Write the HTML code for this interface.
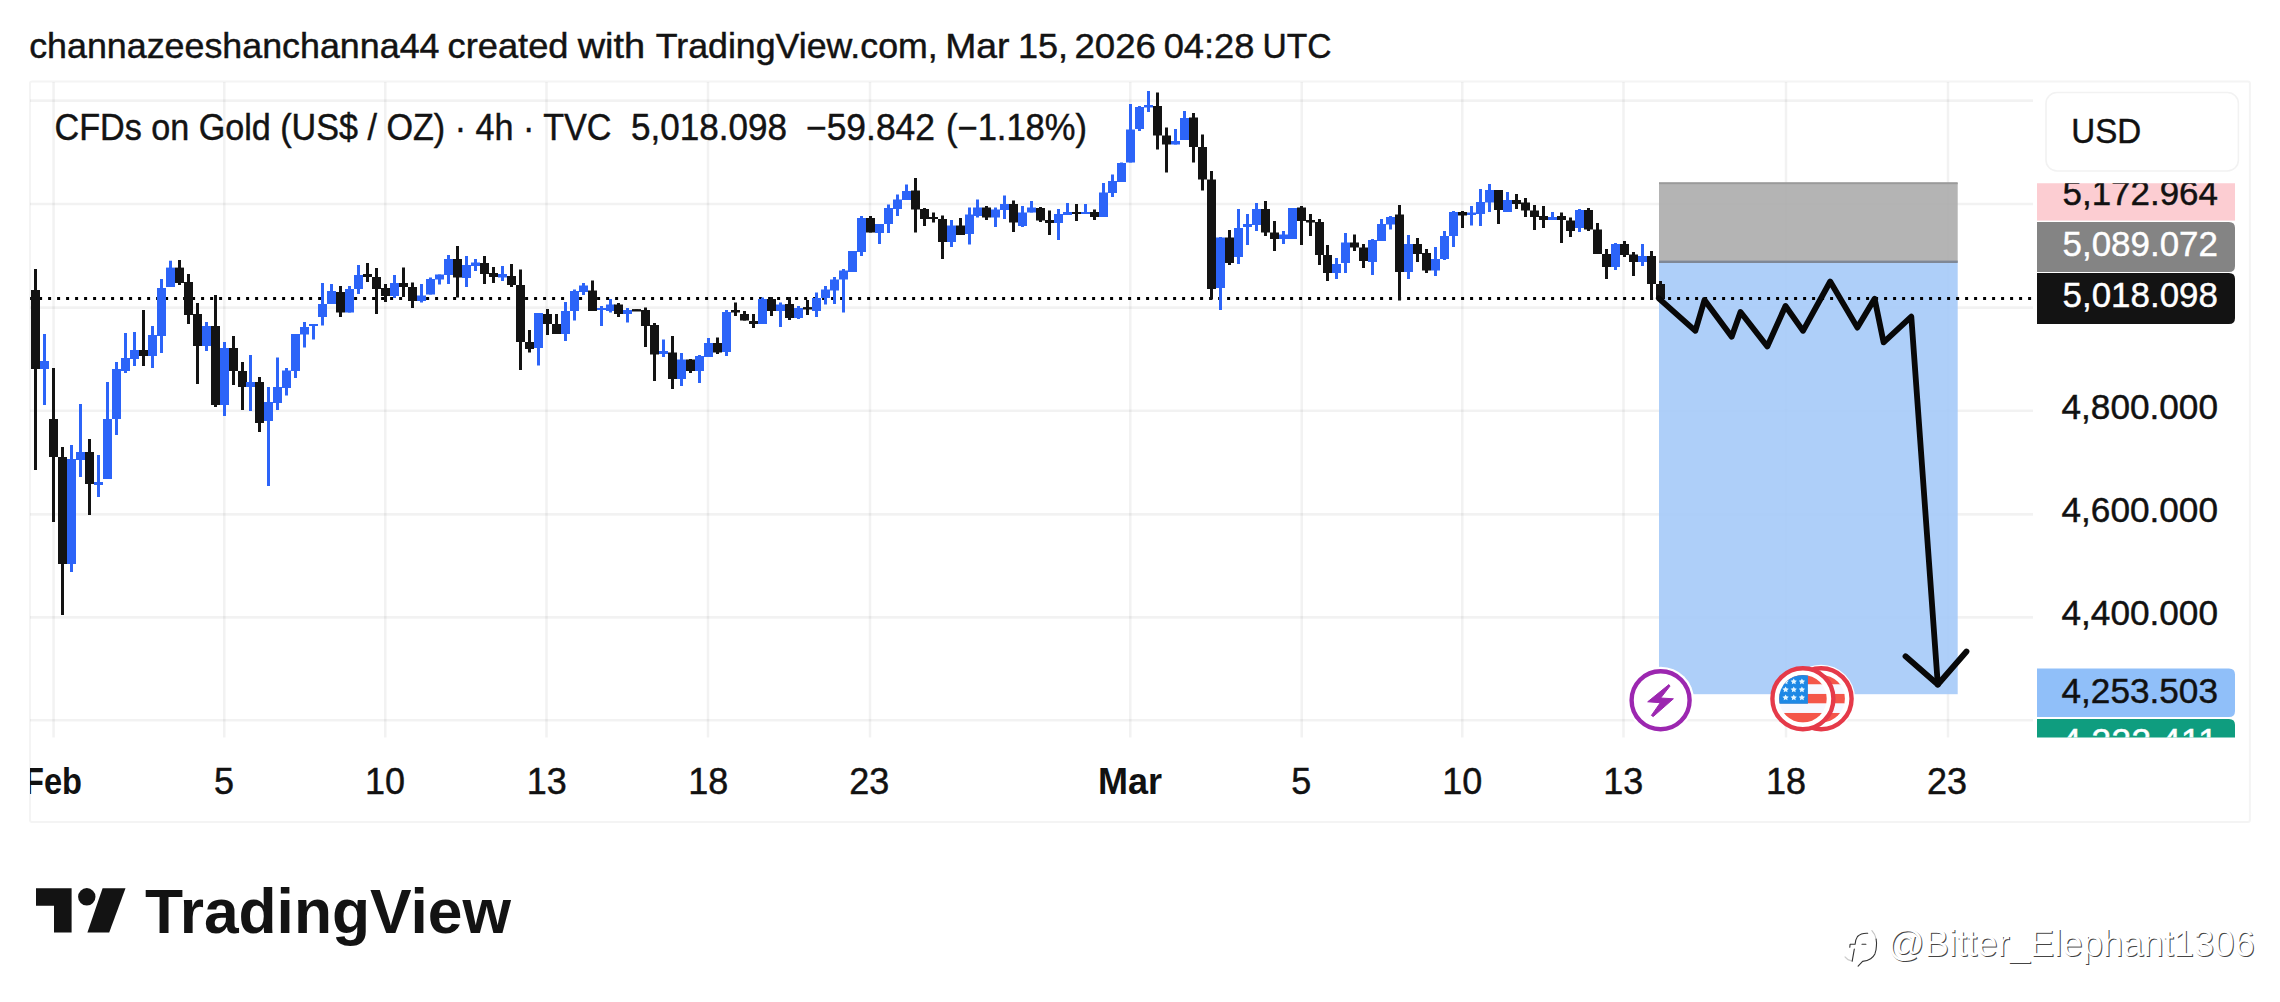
<!DOCTYPE html>
<html><head><meta charset="utf-8"><title>chart</title>
<style>html,body{margin:0;padding:0;background:#fff;}body{width:2280px;height:1002px;overflow:hidden;}svg{display:block;}text{font-family:"Liberation Sans",sans-serif;}.k{stroke:#131313;stroke-width:0.45px;}.w{stroke:#fff;stroke-width:0.4px;}</style>
</head><body>
<svg width="2280" height="1002" viewBox="0 0 2280 1002">
<rect x="0" y="0" width="2280" height="1002" fill="#ffffff"/>
<rect x="30" y="81.4" width="2219.9" height="740.6" rx="2" fill="none" stroke="#f4f4f4" stroke-width="2"/>
<g stroke="rgba(0,0,0,0.05)" stroke-width="2.6">
<line x1="30" y1="100.6" x2="2033" y2="100.6"/>
<line x1="30" y1="204.0" x2="2033" y2="204.0"/>
<line x1="30" y1="307.6" x2="2033" y2="307.6"/>
<line x1="30" y1="410.8" x2="2033" y2="410.8"/>
<line x1="30" y1="514.4" x2="2033" y2="514.4"/>
<line x1="30" y1="617.4" x2="2033" y2="617.4"/>
<line x1="30" y1="720.2" x2="2033" y2="720.2"/>
<line x1="53.6" y1="82" x2="53.6" y2="737.5"/>
<line x1="224.3" y1="82" x2="224.3" y2="737.5"/>
<line x1="385.3" y1="82" x2="385.3" y2="737.5"/>
<line x1="546.5" y1="82" x2="546.5" y2="737.5"/>
<line x1="708.0" y1="82" x2="708.0" y2="737.5"/>
<line x1="870.0" y1="82" x2="870.0" y2="737.5"/>
<line x1="1130.3" y1="82" x2="1130.3" y2="737.5"/>
<line x1="1301.7" y1="82" x2="1301.7" y2="737.5"/>
<line x1="1462.3" y1="82" x2="1462.3" y2="737.5"/>
<line x1="1623.5" y1="82" x2="1623.5" y2="737.5"/>
<line x1="1786.0" y1="82" x2="1786.0" y2="737.5"/>
<line x1="1948.0" y1="82" x2="1948.0" y2="737.5"/>
</g>
<rect x="1659" y="183" width="298.7" height="79" fill="rgba(172,172,172,0.9)"/>
<rect x="1659" y="262" width="298.7" height="432.2" fill="rgba(165,202,248,0.9)"/>
<rect x="1659" y="182.2" width="298.7" height="2" fill="#9a9a9a"/>
<rect x="1659" y="260.6" width="298.7" height="2.4" fill="#7f8896"/>
<line x1="30.1" y1="298.4" x2="2032" y2="298.4" stroke="#000" stroke-width="3" stroke-dasharray="3 6"/>
<g>
<rect x="34.00" y="269.0" width="3.0" height="201.0" fill="#131313"/>
<rect x="43.00" y="334.0" width="3.0" height="71.0" fill="#2c64f8"/>
<rect x="52.00" y="368.0" width="3.0" height="154.0" fill="#131313"/>
<rect x="61.00" y="447.0" width="3.0" height="168.0" fill="#131313"/>
<rect x="70.00" y="445.0" width="3.0" height="127.0" fill="#2c64f8"/>
<rect x="79.00" y="404.0" width="3.0" height="73.0" fill="#2c64f8"/>
<rect x="88.00" y="439.0" width="3.0" height="76.0" fill="#131313"/>
<rect x="97.00" y="455.0" width="3.0" height="42.0" fill="#2c64f8"/>
<rect x="106.00" y="382.0" width="3.0" height="97.0" fill="#2c64f8"/>
<rect x="115.00" y="362.0" width="3.0" height="73.0" fill="#2c64f8"/>
<rect x="124.00" y="333.0" width="3.0" height="40.0" fill="#2c64f8"/>
<rect x="133.00" y="332.0" width="3.0" height="34.0" fill="#2c64f8"/>
<rect x="142.00" y="310.0" width="3.0" height="56.0" fill="#131313"/>
<rect x="151.00" y="326.0" width="3.0" height="42.0" fill="#2c64f8"/>
<rect x="160.00" y="279.0" width="3.0" height="74.0" fill="#2c64f8"/>
<rect x="169.00" y="260.7" width="3.0" height="26.3" fill="#2c64f8"/>
<rect x="178.00" y="260.0" width="3.0" height="25.0" fill="#131313"/>
<rect x="187.00" y="274.0" width="3.0" height="50.0" fill="#131313"/>
<rect x="196.00" y="303.0" width="3.0" height="81.0" fill="#131313"/>
<rect x="205.00" y="322.0" width="3.0" height="29.0" fill="#2c64f8"/>
<rect x="214.00" y="295.0" width="3.0" height="112.0" fill="#131313"/>
<rect x="223.00" y="342.0" width="3.0" height="74.0" fill="#2c64f8"/>
<rect x="232.00" y="336.0" width="3.0" height="49.0" fill="#131313"/>
<rect x="241.00" y="362.0" width="3.0" height="48.0" fill="#131313"/>
<rect x="249.00" y="355.0" width="3.0" height="56.0" fill="#2c64f8"/>
<rect x="258.00" y="377.0" width="3.0" height="55.0" fill="#131313"/>
<rect x="267.00" y="387.0" width="3.0" height="99.0" fill="#2c64f8"/>
<rect x="276.00" y="357.5" width="3.0" height="52.5" fill="#2c64f8"/>
<rect x="285.00" y="368.0" width="3.0" height="27.5" fill="#2c64f8"/>
<rect x="294.00" y="334.0" width="3.0" height="44.0" fill="#2c64f8"/>
<rect x="303.00" y="322.0" width="3.0" height="25.5" fill="#2c64f8"/>
<rect x="312.00" y="324.0" width="3.0" height="15.5" fill="#2c64f8"/>
<rect x="321.00" y="283.0" width="3.0" height="42.5" fill="#2c64f8"/>
<rect x="330.00" y="284.0" width="3.0" height="20.0" fill="#2c64f8"/>
<rect x="339.00" y="286.0" width="3.0" height="31.0" fill="#131313"/>
<rect x="348.00" y="286.0" width="3.0" height="26.5" fill="#2c64f8"/>
<rect x="357.00" y="265.0" width="3.0" height="29.0" fill="#2c64f8"/>
<rect x="366.00" y="263.0" width="3.0" height="19.0" fill="#131313"/>
<rect x="375.00" y="268.0" width="3.0" height="46.0" fill="#131313"/>
<rect x="384.00" y="284.0" width="3.0" height="18.0" fill="#131313"/>
<rect x="393.00" y="275.0" width="3.0" height="23.0" fill="#2c64f8"/>
<rect x="402.00" y="267.5" width="3.0" height="29.5" fill="#131313"/>
<rect x="411.00" y="282.5" width="3.0" height="25.5" fill="#131313"/>
<rect x="420.00" y="284.0" width="3.0" height="18.5" fill="#2c64f8"/>
<rect x="429.00" y="277.5" width="3.0" height="17.0" fill="#2c64f8"/>
<rect x="438.00" y="274.5" width="3.0" height="10.0" fill="#2c64f8"/>
<rect x="447.00" y="255.0" width="3.0" height="29.0" fill="#2c64f8"/>
<rect x="456.00" y="246.0" width="3.0" height="51.5" fill="#131313"/>
<rect x="465.00" y="256.0" width="3.0" height="31.0" fill="#2c64f8"/>
<rect x="474.00" y="259.0" width="3.0" height="12.0" fill="#2c64f8"/>
<rect x="483.00" y="256.0" width="3.0" height="28.0" fill="#131313"/>
<rect x="492.00" y="267.0" width="3.0" height="16.0" fill="#131313"/>
<rect x="501.00" y="266.0" width="3.0" height="15.0" fill="#2c64f8"/>
<rect x="510.00" y="264.0" width="3.0" height="23.0" fill="#131313"/>
<rect x="519.00" y="269.5" width="3.0" height="100.5" fill="#131313"/>
<rect x="528.00" y="330.0" width="3.0" height="22.5" fill="#131313"/>
<rect x="537.00" y="313.0" width="3.0" height="52.5" fill="#2c64f8"/>
<rect x="546.00" y="309.0" width="3.0" height="26.0" fill="#131313"/>
<rect x="555.00" y="314.0" width="3.0" height="20.0" fill="#131313"/>
<rect x="564.00" y="302.0" width="3.0" height="39.0" fill="#2c64f8"/>
<rect x="573.00" y="289.5" width="3.0" height="31.0" fill="#2c64f8"/>
<rect x="582.00" y="283.0" width="3.0" height="12.0" fill="#2c64f8"/>
<rect x="591.00" y="280.5" width="3.0" height="30.5" fill="#131313"/>
<rect x="600.00" y="306.0" width="3.0" height="20.0" fill="#2c64f8"/>
<rect x="609.00" y="299.0" width="3.0" height="13.5" fill="#2c64f8"/>
<rect x="617.00" y="303.0" width="3.0" height="14.0" fill="#131313"/>
<rect x="626.00" y="308.0" width="3.0" height="14.5" fill="#2c64f8"/>
<rect x="635.00" y="309.5" width="3.0" height="1.5" fill="#131313"/>
<rect x="644.00" y="307.5" width="3.0" height="39.5" fill="#131313"/>
<rect x="653.00" y="323.0" width="3.0" height="58.0" fill="#131313"/>
<rect x="662.00" y="339.5" width="3.0" height="17.5" fill="#2c64f8"/>
<rect x="671.00" y="336.0" width="3.0" height="53.0" fill="#131313"/>
<rect x="680.00" y="353.0" width="3.0" height="33.0" fill="#2c64f8"/>
<rect x="689.00" y="359.0" width="3.0" height="14.0" fill="#131313"/>
<rect x="698.00" y="355.0" width="3.0" height="28.0" fill="#2c64f8"/>
<rect x="707.00" y="338.0" width="3.0" height="19.0" fill="#2c64f8"/>
<rect x="716.00" y="337.5" width="3.0" height="16.5" fill="#131313"/>
<rect x="725.00" y="310.0" width="3.0" height="46.0" fill="#2c64f8"/>
<rect x="734.00" y="302.5" width="3.0" height="13.5" fill="#131313"/>
<rect x="743.00" y="311.0" width="3.0" height="9.5" fill="#131313"/>
<rect x="752.00" y="314.0" width="3.0" height="14.0" fill="#131313"/>
<rect x="761.00" y="297.5" width="3.0" height="26.5" fill="#2c64f8"/>
<rect x="770.00" y="297.0" width="3.0" height="19.0" fill="#131313"/>
<rect x="779.00" y="302.5" width="3.0" height="24.5" fill="#2c64f8"/>
<rect x="788.00" y="297.0" width="3.0" height="23.0" fill="#131313"/>
<rect x="797.00" y="306.0" width="3.0" height="13.0" fill="#2c64f8"/>
<rect x="806.00" y="300.0" width="3.0" height="15.0" fill="#131313"/>
<rect x="815.00" y="292.5" width="3.0" height="24.5" fill="#2c64f8"/>
<rect x="824.00" y="286.0" width="3.0" height="18.5" fill="#2c64f8"/>
<rect x="833.00" y="277.0" width="3.0" height="27.0" fill="#2c64f8"/>
<rect x="842.00" y="269.0" width="3.0" height="43.5" fill="#2c64f8"/>
<rect x="851.00" y="251.0" width="3.0" height="21.0" fill="#2c64f8"/>
<rect x="860.00" y="216.0" width="3.0" height="40.0" fill="#2c64f8"/>
<rect x="869.00" y="216.0" width="3.0" height="16.5" fill="#131313"/>
<rect x="878.00" y="224.0" width="3.0" height="20.0" fill="#2c64f8"/>
<rect x="887.00" y="204.5" width="3.0" height="28.5" fill="#2c64f8"/>
<rect x="896.00" y="194.5" width="3.0" height="21.5" fill="#2c64f8"/>
<rect x="905.00" y="184.5" width="3.0" height="15.5" fill="#2c64f8"/>
<rect x="914.00" y="178.0" width="3.0" height="54.5" fill="#131313"/>
<rect x="923.00" y="208.0" width="3.0" height="18.0" fill="#131313"/>
<rect x="932.00" y="212.5" width="3.0" height="10.0" fill="#131313"/>
<rect x="941.00" y="215.5" width="3.0" height="43.5" fill="#131313"/>
<rect x="950.00" y="220.0" width="3.0" height="27.0" fill="#2c64f8"/>
<rect x="959.00" y="218.0" width="3.0" height="17.0" fill="#131313"/>
<rect x="968.00" y="207.5" width="3.0" height="37.0" fill="#2c64f8"/>
<rect x="976.00" y="199.5" width="3.0" height="18.0" fill="#2c64f8"/>
<rect x="985.00" y="206.0" width="3.0" height="14.0" fill="#131313"/>
<rect x="994.00" y="207.5" width="3.0" height="19.5" fill="#2c64f8"/>
<rect x="1003.00" y="195.5" width="3.0" height="23.5" fill="#2c64f8"/>
<rect x="1012.00" y="200.5" width="3.0" height="31.5" fill="#131313"/>
<rect x="1021.00" y="206.0" width="3.0" height="21.0" fill="#2c64f8"/>
<rect x="1030.00" y="201.0" width="3.0" height="11.5" fill="#2c64f8"/>
<rect x="1039.00" y="207.0" width="3.0" height="15.0" fill="#131313"/>
<rect x="1048.00" y="210.5" width="3.0" height="24.5" fill="#131313"/>
<rect x="1057.00" y="209.0" width="3.0" height="31.0" fill="#2c64f8"/>
<rect x="1066.00" y="203.0" width="3.0" height="12.0" fill="#2c64f8"/>
<rect x="1075.00" y="204.0" width="3.0" height="17.0" fill="#131313"/>
<rect x="1084.00" y="204.0" width="3.0" height="10.0" fill="#2c64f8"/>
<rect x="1093.00" y="209.5" width="3.0" height="10.5" fill="#131313"/>
<rect x="1102.00" y="183.0" width="3.0" height="34.0" fill="#2c64f8"/>
<rect x="1111.00" y="174.5" width="3.0" height="22.5" fill="#2c64f8"/>
<rect x="1120.00" y="162.5" width="3.0" height="19.5" fill="#2c64f8"/>
<rect x="1129.00" y="104.0" width="3.0" height="58.5" fill="#2c64f8"/>
<rect x="1138.00" y="106.0" width="3.0" height="25.0" fill="#2c64f8"/>
<rect x="1147.00" y="91.0" width="3.0" height="21.0" fill="#2c64f8"/>
<rect x="1156.00" y="92.5" width="3.0" height="57.0" fill="#131313"/>
<rect x="1165.00" y="127.5" width="3.0" height="45.0" fill="#131313"/>
<rect x="1174.00" y="129.0" width="3.0" height="15.5" fill="#2c64f8"/>
<rect x="1183.00" y="111.0" width="3.0" height="29.0" fill="#2c64f8"/>
<rect x="1192.00" y="113.0" width="3.0" height="49.5" fill="#131313"/>
<rect x="1201.00" y="134.5" width="3.0" height="56.0" fill="#131313"/>
<rect x="1210.00" y="171.0" width="3.0" height="128.5" fill="#131313"/>
<rect x="1219.00" y="237.0" width="3.0" height="73.0" fill="#2c64f8"/>
<rect x="1228.00" y="230.0" width="3.0" height="35.0" fill="#131313"/>
<rect x="1237.00" y="209.0" width="3.0" height="55.0" fill="#2c64f8"/>
<rect x="1246.00" y="214.0" width="3.0" height="31.0" fill="#2c64f8"/>
<rect x="1255.00" y="203.0" width="3.0" height="28.0" fill="#2c64f8"/>
<rect x="1264.00" y="201.0" width="3.0" height="35.0" fill="#131313"/>
<rect x="1273.00" y="221.0" width="3.0" height="30.0" fill="#131313"/>
<rect x="1282.00" y="231.0" width="3.0" height="13.0" fill="#2c64f8"/>
<rect x="1291.00" y="208.0" width="3.0" height="31.0" fill="#2c64f8"/>
<rect x="1300.00" y="206.0" width="3.0" height="39.0" fill="#131313"/>
<rect x="1309.00" y="214.0" width="3.0" height="22.0" fill="#131313"/>
<rect x="1318.00" y="219.0" width="3.0" height="46.0" fill="#131313"/>
<rect x="1326.00" y="245.0" width="3.0" height="36.0" fill="#131313"/>
<rect x="1335.00" y="258.0" width="3.0" height="21.0" fill="#2c64f8"/>
<rect x="1344.00" y="233.0" width="3.0" height="40.0" fill="#2c64f8"/>
<rect x="1353.00" y="234.5" width="3.0" height="16.5" fill="#131313"/>
<rect x="1362.00" y="244.0" width="3.0" height="24.0" fill="#131313"/>
<rect x="1371.00" y="239.0" width="3.0" height="36.0" fill="#2c64f8"/>
<rect x="1380.00" y="219.0" width="3.0" height="22.0" fill="#2c64f8"/>
<rect x="1389.00" y="216.0" width="3.0" height="13.5" fill="#2c64f8"/>
<rect x="1398.00" y="205.0" width="3.0" height="95.5" fill="#131313"/>
<rect x="1407.00" y="235.0" width="3.0" height="44.0" fill="#2c64f8"/>
<rect x="1416.00" y="238.0" width="3.0" height="24.0" fill="#131313"/>
<rect x="1425.00" y="249.0" width="3.0" height="24.0" fill="#131313"/>
<rect x="1434.00" y="247.0" width="3.0" height="29.0" fill="#2c64f8"/>
<rect x="1443.00" y="231.0" width="3.0" height="29.0" fill="#2c64f8"/>
<rect x="1452.00" y="211.0" width="3.0" height="36.0" fill="#2c64f8"/>
<rect x="1461.00" y="211.0" width="3.0" height="17.0" fill="#131313"/>
<rect x="1470.00" y="206.0" width="3.0" height="19.5" fill="#2c64f8"/>
<rect x="1479.00" y="189.0" width="3.0" height="37.0" fill="#2c64f8"/>
<rect x="1488.00" y="184.0" width="3.0" height="28.0" fill="#2c64f8"/>
<rect x="1497.00" y="190.0" width="3.0" height="34.0" fill="#131313"/>
<rect x="1506.00" y="192.0" width="3.0" height="20.0" fill="#2c64f8"/>
<rect x="1515.00" y="194.0" width="3.0" height="15.0" fill="#131313"/>
<rect x="1524.00" y="198.0" width="3.0" height="19.0" fill="#131313"/>
<rect x="1533.00" y="205.0" width="3.0" height="25.0" fill="#131313"/>
<rect x="1542.00" y="206.0" width="3.0" height="22.0" fill="#131313"/>
<rect x="1551.00" y="212.0" width="3.0" height="8.0" fill="#2c64f8"/>
<rect x="1560.00" y="212.5" width="3.0" height="30.5" fill="#131313"/>
<rect x="1569.00" y="217.5" width="3.0" height="19.5" fill="#131313"/>
<rect x="1578.00" y="209.0" width="3.0" height="23.0" fill="#2c64f8"/>
<rect x="1587.00" y="208.0" width="3.0" height="23.0" fill="#131313"/>
<rect x="1596.00" y="223.0" width="3.0" height="31.0" fill="#131313"/>
<rect x="1605.00" y="249.0" width="3.0" height="30.0" fill="#131313"/>
<rect x="1614.00" y="243.0" width="3.0" height="27.0" fill="#2c64f8"/>
<rect x="1623.00" y="241.0" width="3.0" height="16.0" fill="#131313"/>
<rect x="1632.00" y="252.0" width="3.0" height="24.0" fill="#131313"/>
<rect x="1641.00" y="244.0" width="3.0" height="22.0" fill="#2c64f8"/>
<rect x="1650.00" y="251.0" width="3.0" height="49.0" fill="#131313"/>
<rect x="1659.00" y="281.0" width="3.0" height="19.0" fill="#131313"/>
<rect x="31.00" y="290.0" width="9.0" height="79.0" fill="#131313"/>
<rect x="40.00" y="361.0" width="9.0" height="8.0" fill="#2c64f8"/>
<rect x="49.00" y="419.0" width="9.0" height="38.0" fill="#131313"/>
<rect x="58.00" y="457.0" width="9.0" height="107.0" fill="#131313"/>
<rect x="67.00" y="459.0" width="9.0" height="105.0" fill="#2c64f8"/>
<rect x="76.00" y="452.0" width="9.0" height="8.0" fill="#2c64f8"/>
<rect x="85.00" y="452.0" width="9.0" height="32.0" fill="#131313"/>
<rect x="94.00" y="482.0" width="9.0" height="3.0" fill="#2c64f8"/>
<rect x="103.00" y="419.0" width="9.0" height="60.0" fill="#2c64f8"/>
<rect x="112.00" y="369.0" width="9.0" height="50.0" fill="#2c64f8"/>
<rect x="121.00" y="358.0" width="9.0" height="13.0" fill="#2c64f8"/>
<rect x="130.00" y="350.0" width="9.0" height="9.0" fill="#2c64f8"/>
<rect x="139.00" y="350.0" width="9.0" height="6.0" fill="#131313"/>
<rect x="148.00" y="335.0" width="9.0" height="21.0" fill="#2c64f8"/>
<rect x="157.00" y="288.0" width="9.0" height="48.0" fill="#2c64f8"/>
<rect x="166.00" y="267.6" width="9.0" height="19.4" fill="#2c64f8"/>
<rect x="175.00" y="267.6" width="9.0" height="15.4" fill="#131313"/>
<rect x="184.00" y="282.0" width="9.0" height="33.0" fill="#131313"/>
<rect x="193.00" y="314.0" width="9.0" height="32.0" fill="#131313"/>
<rect x="202.00" y="326.0" width="9.0" height="20.0" fill="#2c64f8"/>
<rect x="211.00" y="326.0" width="9.0" height="79.0" fill="#131313"/>
<rect x="220.00" y="348.0" width="9.0" height="57.0" fill="#2c64f8"/>
<rect x="229.00" y="348.0" width="9.0" height="23.0" fill="#131313"/>
<rect x="238.00" y="371.0" width="9.0" height="16.0" fill="#131313"/>
<rect x="246.00" y="382.0" width="9.0" height="5.0" fill="#2c64f8"/>
<rect x="255.00" y="382.0" width="9.0" height="41.0" fill="#131313"/>
<rect x="264.00" y="402.0" width="9.0" height="19.0" fill="#2c64f8"/>
<rect x="273.00" y="387.0" width="9.0" height="16.0" fill="#2c64f8"/>
<rect x="282.00" y="370.5" width="9.0" height="17.5" fill="#2c64f8"/>
<rect x="291.00" y="334.0" width="9.0" height="37.0" fill="#2c64f8"/>
<rect x="300.00" y="327.0" width="9.0" height="7.5" fill="#2c64f8"/>
<rect x="309.00" y="324.0" width="9.0" height="2.0" fill="#2c64f8"/>
<rect x="318.00" y="304.0" width="9.0" height="13.0" fill="#2c64f8"/>
<rect x="327.00" y="291.0" width="9.0" height="13.0" fill="#2c64f8"/>
<rect x="336.00" y="292.0" width="9.0" height="20.5" fill="#131313"/>
<rect x="345.00" y="289.0" width="9.0" height="23.5" fill="#2c64f8"/>
<rect x="354.00" y="275.0" width="9.0" height="14.0" fill="#2c64f8"/>
<rect x="363.00" y="274.0" width="9.0" height="3.0" fill="#131313"/>
<rect x="372.00" y="277.0" width="9.0" height="12.0" fill="#131313"/>
<rect x="381.00" y="288.0" width="9.0" height="8.0" fill="#131313"/>
<rect x="390.00" y="283.0" width="9.0" height="13.0" fill="#2c64f8"/>
<rect x="399.00" y="283.0" width="9.0" height="4.0" fill="#131313"/>
<rect x="408.00" y="287.0" width="9.0" height="14.0" fill="#131313"/>
<rect x="417.00" y="295.5" width="9.0" height="5.5" fill="#2c64f8"/>
<rect x="426.00" y="279.0" width="9.0" height="15.5" fill="#2c64f8"/>
<rect x="435.00" y="274.5" width="9.0" height="5.0" fill="#2c64f8"/>
<rect x="444.00" y="259.0" width="9.0" height="16.0" fill="#2c64f8"/>
<rect x="453.00" y="259.0" width="9.0" height="18.5" fill="#131313"/>
<rect x="462.00" y="265.0" width="9.0" height="13.0" fill="#2c64f8"/>
<rect x="471.00" y="262.5" width="9.0" height="3.5" fill="#2c64f8"/>
<rect x="480.00" y="263.0" width="9.0" height="11.0" fill="#131313"/>
<rect x="489.00" y="273.0" width="9.0" height="4.0" fill="#131313"/>
<rect x="498.00" y="274.0" width="9.0" height="3.5" fill="#2c64f8"/>
<rect x="507.00" y="276.0" width="9.0" height="9.0" fill="#131313"/>
<rect x="516.00" y="285.0" width="9.0" height="57.0" fill="#131313"/>
<rect x="525.00" y="342.0" width="9.0" height="7.0" fill="#131313"/>
<rect x="534.00" y="313.0" width="9.0" height="35.0" fill="#2c64f8"/>
<rect x="543.00" y="314.0" width="9.0" height="10.0" fill="#131313"/>
<rect x="552.00" y="324.0" width="9.0" height="10.0" fill="#131313"/>
<rect x="561.00" y="311.0" width="9.0" height="23.0" fill="#2c64f8"/>
<rect x="570.00" y="291.0" width="9.0" height="20.0" fill="#2c64f8"/>
<rect x="579.00" y="285.5" width="9.0" height="6.5" fill="#2c64f8"/>
<rect x="588.00" y="290.5" width="9.0" height="20.5" fill="#131313"/>
<rect x="597.00" y="308.0" width="9.0" height="2.0" fill="#2c64f8"/>
<rect x="606.00" y="304.5" width="9.0" height="6.5" fill="#2c64f8"/>
<rect x="614.00" y="304.5" width="9.0" height="9.5" fill="#131313"/>
<rect x="623.00" y="310.0" width="9.0" height="4.0" fill="#2c64f8"/>
<rect x="632.00" y="309.1" width="9.0" height="2.4" fill="#131313"/>
<rect x="641.00" y="310.0" width="9.0" height="16.0" fill="#131313"/>
<rect x="650.00" y="325.0" width="9.0" height="29.5" fill="#131313"/>
<rect x="659.00" y="351.0" width="9.0" height="3.0" fill="#2c64f8"/>
<rect x="668.00" y="352.5" width="9.0" height="26.5" fill="#131313"/>
<rect x="677.00" y="359.5" width="9.0" height="19.5" fill="#2c64f8"/>
<rect x="686.00" y="359.5" width="9.0" height="11.5" fill="#131313"/>
<rect x="695.00" y="356.0" width="9.0" height="15.0" fill="#2c64f8"/>
<rect x="704.00" y="343.0" width="9.0" height="14.0" fill="#2c64f8"/>
<rect x="713.00" y="343.0" width="9.0" height="9.5" fill="#131313"/>
<rect x="722.00" y="312.0" width="9.0" height="40.0" fill="#2c64f8"/>
<rect x="731.00" y="310.0" width="9.0" height="2.5" fill="#131313"/>
<rect x="740.00" y="314.0" width="9.0" height="6.5" fill="#131313"/>
<rect x="749.00" y="321.0" width="9.0" height="3.0" fill="#131313"/>
<rect x="758.00" y="299.0" width="9.0" height="25.0" fill="#2c64f8"/>
<rect x="767.00" y="299.0" width="9.0" height="12.0" fill="#131313"/>
<rect x="776.00" y="304.5" width="9.0" height="6.5" fill="#2c64f8"/>
<rect x="785.00" y="304.0" width="9.0" height="14.0" fill="#131313"/>
<rect x="794.00" y="308.0" width="9.0" height="10.0" fill="#2c64f8"/>
<rect x="803.00" y="307.1" width="9.0" height="2.4" fill="#131313"/>
<rect x="812.00" y="298.0" width="9.0" height="13.0" fill="#2c64f8"/>
<rect x="821.00" y="289.5" width="9.0" height="8.5" fill="#2c64f8"/>
<rect x="830.00" y="279.5" width="9.0" height="11.0" fill="#2c64f8"/>
<rect x="839.00" y="270.5" width="9.0" height="9.0" fill="#2c64f8"/>
<rect x="848.00" y="251.0" width="9.0" height="21.0" fill="#2c64f8"/>
<rect x="857.00" y="218.0" width="9.0" height="34.0" fill="#2c64f8"/>
<rect x="866.00" y="218.0" width="9.0" height="14.5" fill="#131313"/>
<rect x="875.00" y="224.0" width="9.0" height="9.0" fill="#2c64f8"/>
<rect x="884.00" y="208.0" width="9.0" height="16.0" fill="#2c64f8"/>
<rect x="893.00" y="199.5" width="9.0" height="9.5" fill="#2c64f8"/>
<rect x="902.00" y="191.0" width="9.0" height="9.0" fill="#2c64f8"/>
<rect x="911.00" y="190.5" width="9.0" height="19.0" fill="#131313"/>
<rect x="920.00" y="209.0" width="9.0" height="10.0" fill="#131313"/>
<rect x="929.00" y="217.0" width="9.0" height="2.0" fill="#131313"/>
<rect x="938.00" y="219.0" width="9.0" height="23.0" fill="#131313"/>
<rect x="947.00" y="225.5" width="9.0" height="16.5" fill="#2c64f8"/>
<rect x="956.00" y="225.5" width="9.0" height="9.5" fill="#131313"/>
<rect x="965.00" y="214.5" width="9.0" height="19.5" fill="#2c64f8"/>
<rect x="973.00" y="207.5" width="9.0" height="8.5" fill="#2c64f8"/>
<rect x="982.00" y="207.5" width="9.0" height="10.0" fill="#131313"/>
<rect x="991.00" y="209.5" width="9.0" height="8.0" fill="#2c64f8"/>
<rect x="1000.00" y="204.0" width="9.0" height="6.0" fill="#2c64f8"/>
<rect x="1009.00" y="204.0" width="9.0" height="18.5" fill="#131313"/>
<rect x="1018.00" y="212.5" width="9.0" height="13.5" fill="#2c64f8"/>
<rect x="1027.00" y="207.5" width="9.0" height="5.0" fill="#2c64f8"/>
<rect x="1036.00" y="208.0" width="9.0" height="12.5" fill="#131313"/>
<rect x="1045.00" y="220.0" width="9.0" height="3.0" fill="#131313"/>
<rect x="1054.00" y="214.0" width="9.0" height="9.0" fill="#2c64f8"/>
<rect x="1063.00" y="212.0" width="9.0" height="3.0" fill="#2c64f8"/>
<rect x="1072.00" y="212.0" width="9.0" height="2.0" fill="#131313"/>
<rect x="1081.00" y="212.0" width="9.0" height="2.0" fill="#2c64f8"/>
<rect x="1090.00" y="212.0" width="9.0" height="5.0" fill="#131313"/>
<rect x="1099.00" y="192.5" width="9.0" height="24.5" fill="#2c64f8"/>
<rect x="1108.00" y="181.0" width="9.0" height="12.0" fill="#2c64f8"/>
<rect x="1117.00" y="163.0" width="9.0" height="19.0" fill="#2c64f8"/>
<rect x="1126.00" y="129.5" width="9.0" height="33.0" fill="#2c64f8"/>
<rect x="1135.00" y="107.0" width="9.0" height="22.0" fill="#2c64f8"/>
<rect x="1144.00" y="105.0" width="9.0" height="2.5" fill="#2c64f8"/>
<rect x="1153.00" y="106.0" width="9.0" height="29.5" fill="#131313"/>
<rect x="1162.00" y="135.5" width="9.0" height="9.0" fill="#131313"/>
<rect x="1171.00" y="141.0" width="9.0" height="3.5" fill="#2c64f8"/>
<rect x="1180.00" y="118.0" width="9.0" height="22.0" fill="#2c64f8"/>
<rect x="1189.00" y="117.5" width="9.0" height="29.5" fill="#131313"/>
<rect x="1198.00" y="147.0" width="9.0" height="32.5" fill="#131313"/>
<rect x="1207.00" y="179.5" width="9.0" height="109.5" fill="#131313"/>
<rect x="1216.00" y="237.5" width="9.0" height="50.5" fill="#2c64f8"/>
<rect x="1225.00" y="237.5" width="9.0" height="25.5" fill="#131313"/>
<rect x="1234.00" y="228.0" width="9.0" height="29.0" fill="#2c64f8"/>
<rect x="1243.00" y="224.0" width="9.0" height="3.0" fill="#2c64f8"/>
<rect x="1252.00" y="209.0" width="9.0" height="16.0" fill="#2c64f8"/>
<rect x="1261.00" y="209.0" width="9.0" height="23.5" fill="#131313"/>
<rect x="1270.00" y="232.5" width="9.0" height="6.5" fill="#131313"/>
<rect x="1279.00" y="234.5" width="9.0" height="4.5" fill="#2c64f8"/>
<rect x="1288.00" y="208.0" width="9.0" height="31.0" fill="#2c64f8"/>
<rect x="1297.00" y="207.5" width="9.0" height="13.5" fill="#131313"/>
<rect x="1306.00" y="220.0" width="9.0" height="2.5" fill="#131313"/>
<rect x="1315.00" y="222.0" width="9.0" height="33.0" fill="#131313"/>
<rect x="1323.00" y="255.0" width="9.0" height="18.0" fill="#131313"/>
<rect x="1332.00" y="264.0" width="9.0" height="9.0" fill="#2c64f8"/>
<rect x="1341.00" y="242.5" width="9.0" height="20.5" fill="#2c64f8"/>
<rect x="1350.00" y="242.5" width="9.0" height="5.0" fill="#131313"/>
<rect x="1359.00" y="247.5" width="9.0" height="13.5" fill="#131313"/>
<rect x="1368.00" y="240.0" width="9.0" height="22.0" fill="#2c64f8"/>
<rect x="1377.00" y="224.0" width="9.0" height="17.0" fill="#2c64f8"/>
<rect x="1386.00" y="217.0" width="9.0" height="7.5" fill="#2c64f8"/>
<rect x="1395.00" y="214.5" width="9.0" height="57.5" fill="#131313"/>
<rect x="1404.00" y="244.0" width="9.0" height="28.0" fill="#2c64f8"/>
<rect x="1413.00" y="244.0" width="9.0" height="10.0" fill="#131313"/>
<rect x="1422.00" y="253.0" width="9.0" height="17.5" fill="#131313"/>
<rect x="1431.00" y="259.0" width="9.0" height="11.5" fill="#2c64f8"/>
<rect x="1440.00" y="236.0" width="9.0" height="23.0" fill="#2c64f8"/>
<rect x="1449.00" y="212.0" width="9.0" height="24.0" fill="#2c64f8"/>
<rect x="1458.00" y="212.0" width="9.0" height="3.5" fill="#131313"/>
<rect x="1467.00" y="212.5" width="9.0" height="2.5" fill="#2c64f8"/>
<rect x="1476.00" y="202.0" width="9.0" height="12.0" fill="#2c64f8"/>
<rect x="1485.00" y="190.0" width="9.0" height="12.5" fill="#2c64f8"/>
<rect x="1494.00" y="190.0" width="9.0" height="20.0" fill="#131313"/>
<rect x="1503.00" y="200.0" width="9.0" height="12.0" fill="#2c64f8"/>
<rect x="1512.00" y="200.0" width="9.0" height="4.0" fill="#131313"/>
<rect x="1521.00" y="202.5" width="9.0" height="8.0" fill="#131313"/>
<rect x="1530.00" y="210.5" width="9.0" height="6.5" fill="#131313"/>
<rect x="1539.00" y="216.0" width="9.0" height="4.0" fill="#131313"/>
<rect x="1548.00" y="217.0" width="9.0" height="3.0" fill="#2c64f8"/>
<rect x="1557.00" y="216.0" width="9.0" height="4.0" fill="#131313"/>
<rect x="1566.00" y="220.5" width="9.0" height="10.5" fill="#131313"/>
<rect x="1575.00" y="210.0" width="9.0" height="18.0" fill="#2c64f8"/>
<rect x="1584.00" y="210.0" width="9.0" height="19.5" fill="#131313"/>
<rect x="1593.00" y="229.5" width="9.0" height="24.5" fill="#131313"/>
<rect x="1602.00" y="254.0" width="9.0" height="13.0" fill="#131313"/>
<rect x="1611.00" y="244.0" width="9.0" height="23.0" fill="#2c64f8"/>
<rect x="1620.00" y="244.0" width="9.0" height="11.0" fill="#131313"/>
<rect x="1629.00" y="254.5" width="9.0" height="7.5" fill="#131313"/>
<rect x="1638.00" y="256.0" width="9.0" height="6.0" fill="#2c64f8"/>
<rect x="1647.00" y="256.0" width="9.0" height="28.0" fill="#131313"/>
<rect x="1656.00" y="284.0" width="9.0" height="15.0" fill="#131313"/>
</g>
<polyline points="1658.8,298.3 1695.4,330.8 1704.5,300.0 1731.7,336.7 1740.5,312.0 1767.3,346.5 1785.5,306.0 1803.0,330.8 1830.2,281.5 1857.4,327.6 1874.6,298.7 1883.6,342.3 1911.3,316.7 1937.8,684.5" fill="none" stroke="#080808" stroke-width="5.8" stroke-linejoin="round" stroke-linecap="round"/>
<polyline points="1905.5,656.3 1937.8,684.5 1966.5,651.5" fill="none" stroke="#080808" stroke-width="5.8" stroke-linejoin="round" stroke-linecap="round"/>
<circle cx="1660.6" cy="700.3" r="33.5" fill="#fff"/>
<circle cx="1660.6" cy="700.3" r="29" fill="#fff" stroke="#9c27b0" stroke-width="4.4"/>
<polygon points="1668.9,684.6 1647.7,701.8 1660.3,702.7 1651.4,715.4 1653.2,716.6 1673.4,698.8 1660.7,698.0 1670.0,686.1" fill="#9c27b0" stroke="#9c27b0" stroke-width="1" stroke-linejoin="round"/>
<circle cx="1821.1" cy="698.7" r="34" fill="#fff"/>
<circle cx="1821.1" cy="698.7" r="30.5" fill="#fff" stroke="#e53a49" stroke-width="4.4"/>
<clipPath id="fcb"><circle cx="1821.1" cy="698.7" r="23.8"/></clipPath>
<g clip-path="url(#fcb)">
<rect x="1796.1" y="674.90" width="50" height="9.72" fill="#f4564a"/>
<rect x="1796.1" y="684.42" width="50" height="9.72" fill="#f7f8ff"/>
<rect x="1796.1" y="693.94" width="50" height="9.72" fill="#f4564a"/>
<rect x="1796.1" y="703.46" width="50" height="9.72" fill="#f7f8ff"/>
<rect x="1796.1" y="712.98" width="50" height="9.72" fill="#f4564a"/>
<rect x="1796.1" y="674.90" width="30.0" height="28.86" fill="#1e88e5"/>
<polygon points="1803.80,678.40 1804.77,680.37 1806.94,680.68 1805.37,682.21 1805.74,684.37 1803.80,683.35 1801.86,684.37 1802.23,682.21 1800.66,680.68 1802.83,680.37" fill="#e4f6ff"/>
<polygon points="1811.95,678.40 1812.92,680.37 1815.09,680.68 1813.52,682.21 1813.89,684.37 1811.95,683.35 1810.01,684.37 1810.38,682.21 1808.81,680.68 1810.98,680.37" fill="#e4f6ff"/>
<polygon points="1820.10,678.40 1821.07,680.37 1823.24,680.68 1821.67,682.21 1822.04,684.37 1820.10,683.35 1818.16,684.37 1818.53,682.21 1816.96,680.68 1819.13,680.37" fill="#e4f6ff"/>
<polygon points="1803.80,686.40 1804.77,688.37 1806.94,688.68 1805.37,690.21 1805.74,692.37 1803.80,691.35 1801.86,692.37 1802.23,690.21 1800.66,688.68 1802.83,688.37" fill="#e4f6ff"/>
<polygon points="1811.95,686.40 1812.92,688.37 1815.09,688.68 1813.52,690.21 1813.89,692.37 1811.95,691.35 1810.01,692.37 1810.38,690.21 1808.81,688.68 1810.98,688.37" fill="#e4f6ff"/>
<polygon points="1820.10,686.40 1821.07,688.37 1823.24,688.68 1821.67,690.21 1822.04,692.37 1820.10,691.35 1818.16,692.37 1818.53,690.21 1816.96,688.68 1819.13,688.37" fill="#e4f6ff"/>
<polygon points="1803.80,694.40 1804.77,696.37 1806.94,696.68 1805.37,698.21 1805.74,700.37 1803.80,699.35 1801.86,700.37 1802.23,698.21 1800.66,696.68 1802.83,696.37" fill="#e4f6ff"/>
<polygon points="1811.95,694.40 1812.92,696.37 1815.09,696.68 1813.52,698.21 1813.89,700.37 1811.95,699.35 1810.01,700.37 1810.38,698.21 1808.81,696.68 1810.98,696.37" fill="#e4f6ff"/>
<polygon points="1820.10,694.40 1821.07,696.37 1823.24,696.68 1821.67,698.21 1822.04,700.37 1820.10,699.35 1818.16,700.37 1818.53,698.21 1816.96,696.68 1819.13,696.37" fill="#e4f6ff"/>
</g>
<circle cx="1802.9" cy="698.7" r="30.5" fill="#fff" stroke="#e53a49" stroke-width="4.4"/>
<clipPath id="fca"><circle cx="1802.9" cy="698.7" r="23.8"/></clipPath>
<g clip-path="url(#fca)">
<rect x="1777.9" y="674.90" width="50" height="9.72" fill="#f4564a"/>
<rect x="1777.9" y="684.42" width="50" height="9.72" fill="#f7f8ff"/>
<rect x="1777.9" y="693.94" width="50" height="9.72" fill="#f4564a"/>
<rect x="1777.9" y="703.46" width="50" height="9.72" fill="#f7f8ff"/>
<rect x="1777.9" y="712.98" width="50" height="9.72" fill="#f4564a"/>
<rect x="1777.9" y="674.90" width="30.0" height="28.86" fill="#1e88e5"/>
<polygon points="1785.60,678.40 1786.57,680.37 1788.74,680.68 1787.17,682.21 1787.54,684.37 1785.60,683.35 1783.66,684.37 1784.03,682.21 1782.46,680.68 1784.63,680.37" fill="#e4f6ff"/>
<polygon points="1793.75,678.40 1794.72,680.37 1796.89,680.68 1795.32,682.21 1795.69,684.37 1793.75,683.35 1791.81,684.37 1792.18,682.21 1790.61,680.68 1792.78,680.37" fill="#e4f6ff"/>
<polygon points="1801.90,678.40 1802.87,680.37 1805.04,680.68 1803.47,682.21 1803.84,684.37 1801.90,683.35 1799.96,684.37 1800.33,682.21 1798.76,680.68 1800.93,680.37" fill="#e4f6ff"/>
<polygon points="1785.60,686.40 1786.57,688.37 1788.74,688.68 1787.17,690.21 1787.54,692.37 1785.60,691.35 1783.66,692.37 1784.03,690.21 1782.46,688.68 1784.63,688.37" fill="#e4f6ff"/>
<polygon points="1793.75,686.40 1794.72,688.37 1796.89,688.68 1795.32,690.21 1795.69,692.37 1793.75,691.35 1791.81,692.37 1792.18,690.21 1790.61,688.68 1792.78,688.37" fill="#e4f6ff"/>
<polygon points="1801.90,686.40 1802.87,688.37 1805.04,688.68 1803.47,690.21 1803.84,692.37 1801.90,691.35 1799.96,692.37 1800.33,690.21 1798.76,688.68 1800.93,688.37" fill="#e4f6ff"/>
<polygon points="1785.60,694.40 1786.57,696.37 1788.74,696.68 1787.17,698.21 1787.54,700.37 1785.60,699.35 1783.66,700.37 1784.03,698.21 1782.46,696.68 1784.63,696.37" fill="#e4f6ff"/>
<polygon points="1793.75,694.40 1794.72,696.37 1796.89,696.68 1795.32,698.21 1795.69,700.37 1793.75,699.35 1791.81,700.37 1792.18,698.21 1790.61,696.68 1792.78,696.37" fill="#e4f6ff"/>
<polygon points="1801.90,694.40 1802.87,696.37 1805.04,696.68 1803.47,698.21 1803.84,700.37 1801.90,699.35 1799.96,700.37 1800.33,698.21 1798.76,696.68 1800.93,696.37" fill="#e4f6ff"/>
</g>
<rect x="2046" y="92.5" width="192.4" height="78.5" rx="11" ry="11" fill="#fff" stroke="#f2f2f2" stroke-width="1.6"/>
<text class="k" x="2071.3" y="143.4" font-size="34.5" fill="#111" textLength="70" lengthAdjust="spacingAndGlyphs">USD</text>
<clipPath id="pinkc"><rect x="2030" y="183.2" width="220" height="60"/></clipPath>
<g clip-path="url(#pinkc)"><rect x="2037" y="160" width="198" height="60.6" fill="#fccdd2"/>
<text class="k" x="2062.5" y="205.3" font-size="34.5" fill="#111" textLength="155.5" lengthAdjust="spacingAndGlyphs">5,172.964</text></g>
<path d="M2037 222 H2229 Q2235 222 2235 228 V266 Q2235 272 2229 272 H2037 Z" fill="#848484"/>
<text class="w" x="2062.5" y="256" font-size="34.5" fill="#fff" textLength="155.5" lengthAdjust="spacingAndGlyphs">5,089.072</text>
<path d="M2037 273 H2229 Q2235 273 2235 279 V318 Q2235 324 2229 324 H2037 Z" fill="#131313"/>
<text class="w" x="2062.5" y="306.5" font-size="34.5" fill="#fff" textLength="155.5" lengthAdjust="spacingAndGlyphs">5,018.098</text>
<text class="k" x="2061.5" y="419.3" font-size="34.5" fill="#111" textLength="156.5" lengthAdjust="spacingAndGlyphs">4,800.000</text>
<text class="k" x="2061.5" y="522.2" font-size="34.5" fill="#111" textLength="156.5" lengthAdjust="spacingAndGlyphs">4,600.000</text>
<text class="k" x="2061.5" y="625.0" font-size="34.5" fill="#111" textLength="156.5" lengthAdjust="spacingAndGlyphs">4,400.000</text>
<path d="M2037 668.4 H2229 Q2235 668.4 2235 674.4 V711 Q2235 717 2229 717 H2037 Z" fill="#90bff9"/>
<text class="k" x="2061.5" y="703" font-size="34.5" fill="#111" textLength="156.5" lengthAdjust="spacingAndGlyphs">4,253.503</text>
<clipPath id="grc"><rect x="2030" y="700" width="220" height="37.5"/></clipPath>
<g clip-path="url(#grc)"><path d="M2037 719 H2229 Q2235 719 2235 725 V770 H2037 Z" fill="#0f9d7f"/>
<text class="w" x="2061.5" y="753" font-size="34.5" fill="#fff" textLength="156.5" lengthAdjust="spacingAndGlyphs">4,222.411</text></g>
<clipPath id="xc"><rect x="30" y="740" width="2220" height="80"/></clipPath>
<g clip-path="url(#xc)" font-size="36" fill="#111">
<text x="24" y="794" font-weight="bold" textLength="58" lengthAdjust="spacingAndGlyphs">Feb</text>
<text class="k" x="224.0" y="794" text-anchor="middle">5</text>
<text class="k" x="385.0" y="794" text-anchor="middle">10</text>
<text class="k" x="546.7" y="794" text-anchor="middle">13</text>
<text class="k" x="708.3" y="794" text-anchor="middle">18</text>
<text class="k" x="869.2" y="794" text-anchor="middle">23</text>
<text class="k" x="1301.3" y="794" text-anchor="middle">5</text>
<text class="k" x="1462.2" y="794" text-anchor="middle">10</text>
<text class="k" x="1623.3" y="794" text-anchor="middle">13</text>
<text class="k" x="1786.0" y="794" text-anchor="middle">18</text>
<text class="k" x="1947.0" y="794" text-anchor="middle">23</text>
<text x="1098" y="794" font-weight="bold" textLength="64" lengthAdjust="spacingAndGlyphs">Mar</text>
</g>
<text class="k" x="29.2" y="58.3" font-size="35" fill="#131313" textLength="410.3" lengthAdjust="spacingAndGlyphs">channazeeshanchanna44</text>
<text class="k" x="447.5" y="58.3" font-size="35" fill="#131313" textLength="121.0" lengthAdjust="spacingAndGlyphs">created</text>
<text class="k" x="577.7" y="58.3" font-size="35" fill="#131313" textLength="67.5" lengthAdjust="spacingAndGlyphs">with</text>
<text class="k" x="655.8" y="58.3" font-size="35" fill="#131313" textLength="281.9" lengthAdjust="spacingAndGlyphs">TradingView.com,</text>
<text class="k" x="945.2" y="58.3" font-size="35" fill="#131313" textLength="64.3" lengthAdjust="spacingAndGlyphs">Mar</text>
<text class="k" x="1017.9" y="58.3" font-size="35" fill="#131313" textLength="50.1" lengthAdjust="spacingAndGlyphs">15,</text>
<text class="k" x="1074.5" y="58.3" font-size="35" fill="#131313" textLength="81.5" lengthAdjust="spacingAndGlyphs">2026</text>
<text class="k" x="1163.7" y="58.3" font-size="35" fill="#131313" textLength="90.8" lengthAdjust="spacingAndGlyphs">04:28</text>
<text class="k" x="1262.5" y="58.3" font-size="35" fill="#131313" textLength="69.0" lengthAdjust="spacingAndGlyphs">UTC</text>
<g font-size="36" fill="#131313">
<text class="k" x="54.5" y="139.7" textLength="557" lengthAdjust="spacingAndGlyphs">CFDs on Gold (US$ / OZ) · 4h · TVC</text>
<text class="k" x="631" y="139.7" textLength="156" lengthAdjust="spacingAndGlyphs">5,018.098</text>
<text class="k" x="806" y="139.7" textLength="129" lengthAdjust="spacingAndGlyphs">−59.842</text>
<text class="k" x="946" y="139.7" textLength="141" lengthAdjust="spacingAndGlyphs">(−1.18%)</text>
</g>
<g fill="#131313">
<path d="M36 888.2 H71.6 V932.6 H54 V905.8 H36 Z"/>
<circle cx="86.8" cy="896.8" r="8.7"/>
<path d="M102.6 888.2 H125.5 L109.2 932.6 H87.4 Z"/>
<text x="145" y="932.6" font-size="63.5" font-weight="bold" textLength="366" lengthAdjust="spacingAndGlyphs">TradingView</text>
</g>
<g font-size="37.5" fill="#fff">
<text x="1888.6" y="956.8" fill="#444" textLength="367" lengthAdjust="spacingAndGlyphs">@Bitter_Elephant1306</text>
<text x="1887.6" y="955.8" fill="#fff" textLength="367" lengthAdjust="spacingAndGlyphs">@Bitter_Elephant1306</text>
</g>
<g fill="none" stroke="#333" stroke-width="1.1" stroke-linecap="round" stroke-linejoin="round">
<path d="M1867.7 933.3 Q1861.1 933 1857.5 936.5 Q1855.4 939.5 1855.1 944.3 H1850.1 L1849.8 947.3"/>
<path d="M1862 944.3 H1865.9"/>
<path d="M1854.3 949.1 L1852.2 961.1"/>
<path d="M1852.2 961.1 Q1847.5 960.3 1845 956.9" stroke-opacity="0.25"/>
<path d="M1871.9 930.6 Q1875.2 934 1876.1 939" stroke-opacity="0.3"/>
<path d="M1876.1 939 Q1876.8 943 1876.4 946.1 Q1876.3 950.5 1874.9 953.9 Q1873.3 957 1870.7 958.7 Q1867.5 960.8 1862.6 961.4 L1858.1 966.2"/>
</g>
</svg></body></html>
